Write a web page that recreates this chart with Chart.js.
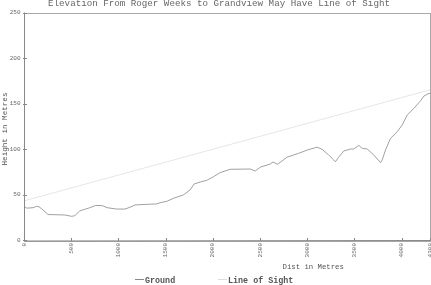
<!DOCTYPE html>
<html>
<head>
<meta charset="utf-8">
<style>
html,body{margin:0;padding:0;background:#fff;overflow:hidden;}
#c{display:block;}
</style>
<script src="https://cdn.jsdelivr.net/npm/chart.js@4/dist/chart.umd.min.js"></script>
</head>
<body>
<canvas id="c" width="431" height="285"></canvas>
<script>
const chartTitle = "Elevation From Roger Weeks to Grandview May Have Line of Sight";
const xTitle = "Dist in Metres";
const yTitle = "Height in Metres";
const seriesNames = ["Ground", "Line of Sight"];

const groundDist = [0,30,96,131,159,202,255,432,503,538,591,644,697,761,832,881,981,1069,1122,1175,1299,1405,1441,1512,1582,1688,1759,1801,1865,1936,2006,2077,2184,2396,2449,2502,2608,2637,2686,2786,2909,3004,3104,3157,3227,3280,3298,3333,3386,3457,3492,3546,3582,3635,3705,3776,3794,3829,3882,3953,4006,4059,4130,4200,4236,4289,4300];
const groundHeight = [37,35,35.5,37,36.5,33,28,27.5,26,26.7,32,33.7,35.5,38,37.7,35.5,34,34,36,38.5,39.2,39.6,41,42.5,45.8,49.5,55,61.5,63.7,65.6,69.5,74,77.7,78,75.8,80,83.5,85.7,83.2,91,95.3,99,102,99.7,93.4,88,86,91,97.8,100,100,104,100.7,100,93.4,85,88,99,111.7,119,126.4,137.4,144.7,153,158.2,161.2,161];
const losDist = [0, 4300];
const losHeight = [43, 165];

const xTickValues = [0,500,1000,1500,2000,2500,3000,3500,4000,4300];
const yTickValues = [0,50,100,150,200,250];
const xMin = 0, xMax = 4300;
const yMin = 0, yMax = 250;

const seriesColors = ["#a0a0a0", "#e6e6e6"];
const mono = "'Liberation Mono', 'DejaVu Sans Mono', monospace";

const toPts = (xs, ys) => xs.map((x, i) => ({x: x, y: ys[i]}));

const extras = {
  id: 'extras',
  afterDraw(chart) {
    const ctx = chart.ctx;
    const a = chart.chartArea;
    const xs = chart.scales.x, ys = chart.scales.y;
    ctx.save();
    ctx.strokeStyle = "#a8a8a8";
    ctx.lineWidth = 1;
    ctx.strokeRect(Math.round(a.left) + 0.5, Math.round(a.top) + 0.5, Math.round(a.right - a.left), Math.round(a.bottom - a.top));
    ctx.strokeStyle = "#888";
    ctx.beginPath();
    ctx.moveTo(Math.round(a.left) + 0.5, a.top);
    ctx.lineTo(Math.round(a.left) + 0.5, a.bottom + 1);
    ctx.lineTo(a.right, Math.round(a.bottom) + 0.5);
    ctx.stroke();
    ctx.beginPath();
    xs.ticks.forEach(t => {
      const px = Math.round(xs.getPixelForValue(t.value)) + 0.5;
      ctx.moveTo(px, a.bottom + 1);
      ctx.lineTo(px, a.bottom - 2);
    });
    ys.ticks.forEach(t => {
      const py = Math.round(ys.getPixelForValue(t.value)) + 0.5;
      ctx.moveTo(a.left - 1, py);
      ctx.lineTo(a.left + 3, py);
    });
    ctx.stroke();
    ctx.fillStyle = "#666";
    ctx.font = "9.2px " + mono;
    ctx.textAlign = "center";
    ctx.textBaseline = "alphabetic";
    ctx.fillText(chartTitle, 219, 6);
    ctx.fillStyle = "#555";
    ctx.font = "7.3px " + mono;
    ctx.textAlign = "left";
    ctx.fillText(xTitle, 282.5, 268.5);
    ctx.save();
    ctx.translate(6.5, 129);
    ctx.rotate(-Math.PI / 2);
    ctx.textAlign = "center";
    ctx.font = "7.6px " + mono;
    ctx.fillText(yTitle, 0, 0);
    ctx.restore();
    const legendSwatch = [135, 218];
    ctx.font = "bold 8.4px " + mono;
    ctx.textAlign = "left";
    chart.data.datasets.forEach((ds, i) => {
      const sx = legendSwatch[i];
      ctx.strokeStyle = i === 0 ? "#888" : "#ddd";
      ctx.lineWidth = 1;
      ctx.beginPath();
      ctx.moveTo(sx, 279.5);
      ctx.lineTo(sx + 9, 279.5);
      ctx.stroke();
      ctx.fillStyle = "#555";
      ctx.fillText(ds.label, sx + 10, 282.5);
    });
    ctx.restore();
  }
};

new Chart(document.getElementById('c'), {
  type: 'line',
  data: {
    datasets: [
      {
        label: seriesNames[0],
        data: toPts(groundDist, groundHeight),
        borderColor: seriesColors[0],
        borderWidth: 1,
        pointRadius: 0,
        tension: 0,
        fill: false
      },
      {
        label: seriesNames[1],
        data: toPts(losDist, losHeight),
        borderColor: seriesColors[1],
        borderWidth: 1,
        pointRadius: 0,
        tension: 0,
        fill: false
      }
    ]
  },
  options: {
    responsive: false,
    animation: false,
    devicePixelRatio: 1,
    layout: { padding: { top: 12.5, right: 1, bottom: 0, left: 0 } },
    plugins: {
      legend: { display: false },
      title: { display: false },
      tooltip: { enabled: false }
    },
    scales: {
      x: {
        type: 'linear',
        min: xMin,
        max: xMax,
        border: { display: false },
        grid: { display: false, drawTicks: false },
        afterBuildTicks(s) { s.ticks = xTickValues.map(v => ({value: v})); },
        ticks: {
          minRotation: 90,
          maxRotation: 90,
          padding: 3,
          color: "#666",
          font: { family: mono, size: 6 },
          autoSkip: false,
          callback: (v) => String(v)
        },
        afterFit(s) { s.height = 45; s.paddingLeft = 0; s.paddingRight = 0; }
      },
      y: {
        type: 'linear',
        min: yMin,
        max: yMax,
        border: { display: false },
        grid: { display: false, drawTicks: false },
        afterBuildTicks(s) { s.ticks = yTickValues.map(v => ({value: v})); },
        ticks: {
          padding: 3.5,
          color: "#666",
          font: { family: mono, size: 6 },
          callback: (v) => String(v)
        },
        afterFit(s) { s.width = 24; s.paddingTop = 0; s.paddingBottom = 0; }
      }
    }
  },
  plugins: [extras]
});
</script>
</body>
</html>
